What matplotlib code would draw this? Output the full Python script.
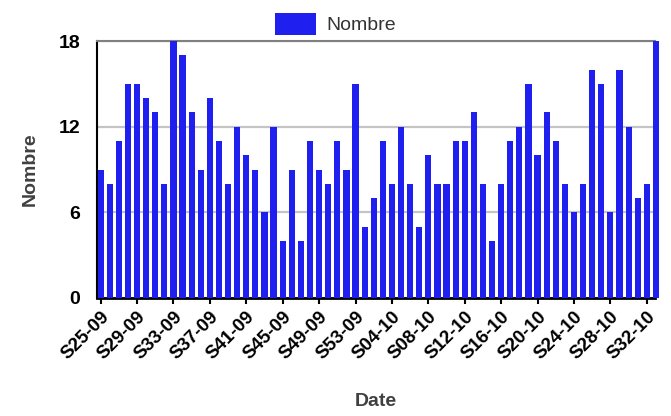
import matplotlib
matplotlib.use("Agg")
import matplotlib.pyplot as plt
import numpy as np

plt.rcParams['font.family'] = ['Liberation Sans', 'DejaVu Sans']

# semaines (S25-09 .. S33-10)
semaines = [f"S{w:02d}-09" for w in range(25, 54)] + [f"S{w:02d}-10" for w in range(1, 34)]

nombre_2009 = [9, 8, 11, 15, 15, 14, 13, 8, 18, 17, 13, 9, 14, 11, 8, 12,
               10, 9, 6, 12, 4, 9, 4, 11, 9, 8, 11, 9, 15]
nombre_2010 = [5, 7, 11, 8, 12, 8, 5, 10, 8, 8, 11, 11, 13, 8, 4, 8,
               11, 12, 15, 10, 13, 11, 8, 6, 8, 16, 15, 6, 16, 12, 7, 8, 18]
nombre = nombre_2009 + nombre_2010

y_ticks = [0, 6, 12, 18]

fig = plt.figure(figsize=(6.71, 4.16), dpi=100)
ax = fig.add_axes([97 / 671, 118 / 416, 558 / 671, 257 / 416])

x = np.arange(len(nombre))
bars = ax.bar(x, nombre, width=0.68, color='#1f1ff0', zorder=3, label='Nombre')
for b in bars:
    b.set_clip_on(False)

ax.set_xlim(-0.4, 60.9)
ax.set_ylim(0, 18)

# grille horizontale
ax.set_yticks(y_ticks)
ax.yaxis.grid(True, color='#c4c4c4', linewidth=1.6, zorder=0)
ax.tick_params(axis='y', length=0, pad=12, labelsize=14)
for t in ax.get_yticklabels():
    t.set_fontweight('bold')

ax.set_xticks(x[::4])
ax.set_xticklabels(semaines[::4], rotation=45, ha='right', rotation_mode='anchor',
                   fontsize=13.5, fontweight='bold')
ax.tick_params(axis='x', length=4, width=1.5, color='black', pad=3)

ax.spines['right'].set_visible(False)
ax.spines['top'].set_color('#808080')
ax.spines['top'].set_linewidth(1.5)
ax.spines['left'].set_linewidth(1.5)
ax.spines['bottom'].set_linewidth(2)

ax.set_ylabel('Nombre', fontsize=14, fontweight='bold', color='#404040', labelpad=14)
ax.set_xlabel('Date', fontsize=14, fontweight='bold', color='#404040', labelpad=22)

fig.legend(handles=[bars], labels=['Nombre'], loc='upper center',
           bbox_to_anchor=(0.5, 1.01), frameon=False, fontsize=14,
           handlelength=2.1, handleheight=1.3, handletextpad=0.5,
           labelcolor='#333333')

fig.savefig('out.png', dpi=100)
